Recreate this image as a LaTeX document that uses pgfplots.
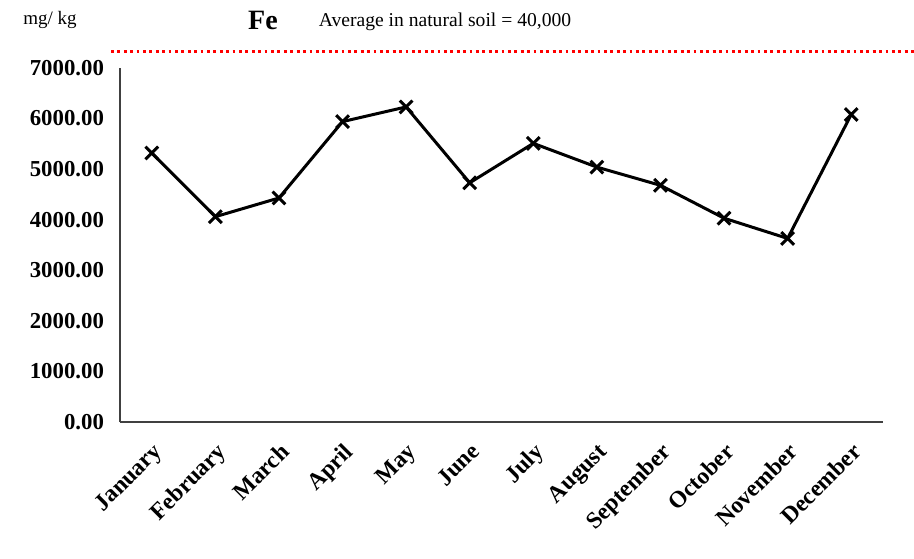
\documentclass[border=0pt]{standalone}
\usepackage{pgfplots}
\pgfplotsset{compat=1.18}
\usepackage{fontspec}
\setmainfont{Liberation Serif}
\begin{document}
\begin{tikzpicture}
\begin{axis}[
    scale only axis,
    width=381.5pt, height=177pt,
    at={(0,0)}, anchor=south west,
    xmin=-0.5, xmax=11.5,
    ymin=0, ymax=7000,
    axis x line=bottom, axis y line=left,
    axis line style={black!75, line width=0.8pt, -},
    major tick length=0pt,
    xtick={0,...,11},
    xticklabels={January,February,March,April,May,June,July,August,September,October,November,December},
    xticklabel shift=5pt,
    xticklabel style={rotate=45, anchor=north east, font=\fontsize{11.8}{13}\selectfont\bfseries},
    ytick={0,1000,...,7000},
    yticklabel style={xshift=-4.5pt, font=\fontsize{11.4}{13}\selectfont\bfseries, /pgf/number format/.cd, fixed, fixed zerofill, precision=2, 1000 sep={}},
    /pgf/number format/assume math mode=true,
    clip=false,
]
\addplot[black, line width=1.5pt, mark=x, mark size=4.5pt, mark options={line width=1.5pt}]
coordinates {
    (0,5320) (1,4060) (2,4430) (3,5940) (4,6230) (5,4730)
    (6,5510) (7,5040) (8,4680) (9,4030) (10,3630) (11,6080)
};
% reference level marker (drawn above the plot area)
\addplot[red, line width=1.5pt, dash pattern=on 1.4pt off 1.8pt, mark=none]
coordinates {(-0.64,7330) (12.0,7330)};
\end{axis}
\node[font=\fontsize{9.5}{11}\selectfont] at (-35pt,201pt) {mg/ kg};
\node[font=\fontsize{14}{16}\selectfont\bfseries] at (71.5pt,201pt) {Fe};
\node[font=\fontsize{9.8}{11}\selectfont] at (162.5pt,200pt) {Average in natural soil = 40,000};
\pgfresetboundingbox
\path[use as bounding box] (-60pt,-68pt) rectangle (397pt,211pt);
\end{tikzpicture}
\end{document}
